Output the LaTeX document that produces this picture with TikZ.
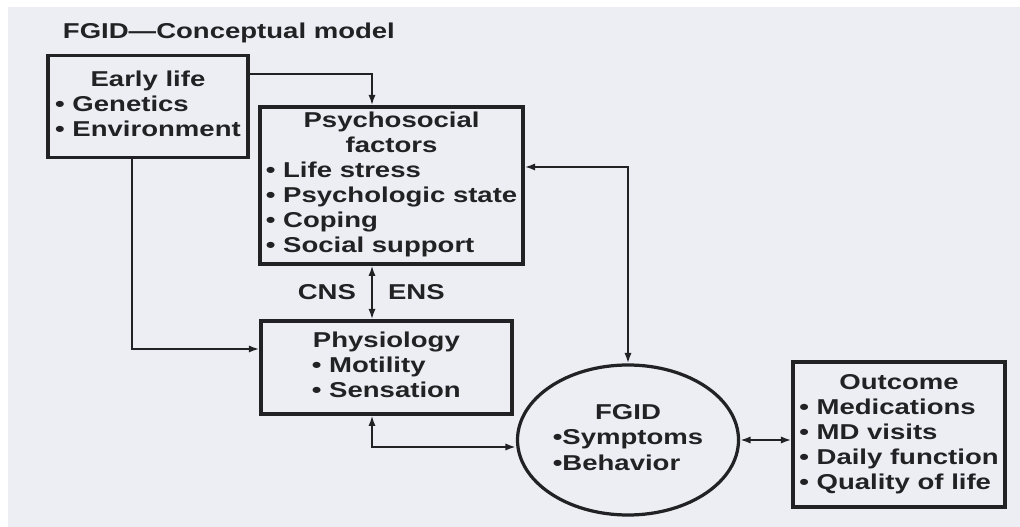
\documentclass[tikz,border=0pt]{standalone}
\usepackage{fontspec}
\setsansfont{Liberation Sans}[FakeStretch=1.28]
\usepackage{tikz}
\usetikzlibrary{positioning,arrows.meta,shapes.geometric}
\definecolor{ink}{RGB}{34,34,36}
\definecolor{paper}{RGB}{236,238,244}
% centred heading line inside a box list
\newcommand{\hd}[1]{\multicolumn{1}{@{}c@{}}{#1}}
\tikzset{
  >={Latex[length=2.6mm,width=1.8mm]},
  shorten >=0pt,
}

\begin{document}
\begin{tikzpicture}[
  every node/.style={font=\sffamily\bfseries\fontsize{15.3}{17.8}\selectfont, text=ink},
  box/.style={draw=ink, line width=2.3pt, rectangle, inner sep=0pt},
  oval/.style={draw=ink, line width=2.3pt, ellipse, inner sep=0pt},
  conn/.style={draw=ink, line width=1.4pt},
]
\useasboundingbox (0,0) rectangle (25.5,13.175);
\fill[white] (0,0) rectangle (25.5,13.175);
\fill[paper] (0.2,0) rectangle (25.5,13.0);

\node[anchor=base west] (title) at (1.45,12.2) {FGID—Conceptual model};

\node[box,minimum width=5.0cm,minimum height=2.55cm] (early) at (3.7,10.51)
  {\begin{tabular}{@{}l@{}}\hd{Early life}\\• Genetics\\• Environment\end{tabular}};
\node[box,minimum width=6.575cm,minimum height=3.925cm] (psych) at (9.79,8.54)
  {\begin{tabular}{@{}l@{}}\hd{Psychosocial}\\\hd{factors}\\• Life stress\\• Psychologic state\\• Coping\\• Social support\end{tabular}};
\node[box,minimum width=6.275cm,minimum height=2.325cm] (phys) at (9.66,3.99)
  {\begin{tabular}{@{}l@{}}\hd{Physiology}\\• Motility\\• Sensation\end{tabular}};
\node[oval,minimum width=5.525cm,minimum height=3.75cm] (fgid) at (15.7,2.175)
  {\begin{tabular}{@{}l@{}}\hd{FGID}\\•Symptoms\\•Behavior\end{tabular}};
\node[box,minimum width=5.3cm,minimum height=3.625cm] (outcome) at (22.475,2.3125)
  {\begin{tabular}{@{}l@{}}\hd{Outcome}\\• Medications\\• MD visits\\• Daily function\\• Quality of life\end{tabular}};

% vertical line shared by the middle arrows
\coordinate (spine) at (9.3,0);

\draw[conn,->] ([yshift=8.1mm]early.east) -| (psych.north -| spine);
\draw[conn,->] ([xshift=-4mm]early.south) |- ([yshift=4.6mm]phys.west);
\draw[conn,<->] (psych.south -| spine) -- (phys.north -| spine)
  node[midway,left=2.6mm] (cns) {CNS}
  node[midway,right=2.6mm] (ens) {ENS};
\draw[conn,<->] (phys.south -| spine) |- ([yshift=-1.75mm]fgid.west);
\draw[conn,<->] ([yshift=4.6mm]psych.east) -| (fgid.north);
\draw[conn,<->] (fgid.east) -- (fgid.east -| outcome.west);

\end{tikzpicture}
\end{document}
